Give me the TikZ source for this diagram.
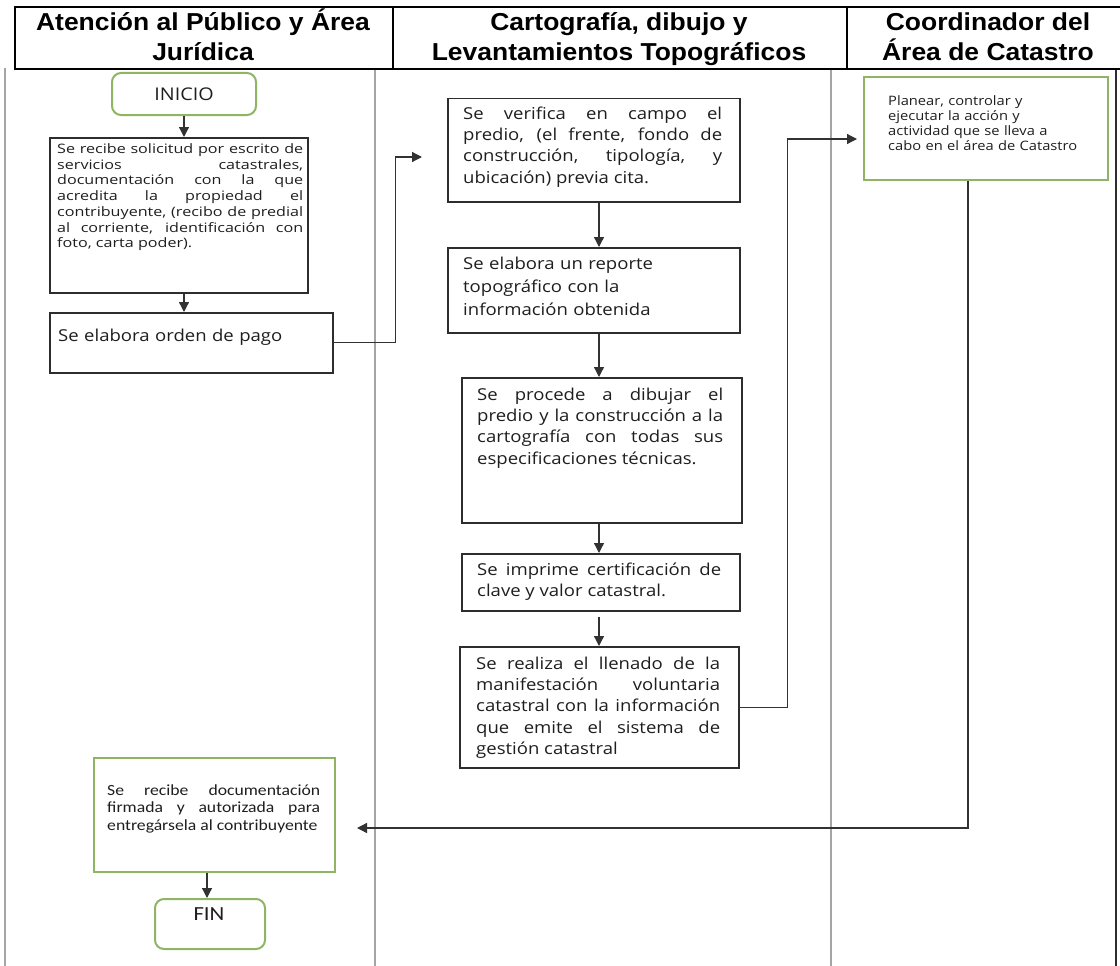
\documentclass[tikz,border=0pt]{standalone}
\usepackage{fontspec}
\newfontfamily\osf{Open Sans}[FakeStretch=1.13]
\newfontfamily\osw{Open Sans}[FakeStretch=1.24]
\newfontfamily\crl{Carlito}[FakeStretch=1.14]
\newfontfamily\hdf{Liberation Sans}[FakeStretch=1.08]
\usetikzlibrary{arrows.meta}
\definecolor{grn}{RGB}{143,180,100}
\definecolor{boxc}{RGB}{45,45,45}
\definecolor{linec}{RGB}{50,50,50}
\definecolor{lanec}{RGB}{165,165,165}
\definecolor{txtc}{RGB}{30,30,30}
\begin{document}
\begin{tikzpicture}[x=1pt,y=-1pt,
  hcell/.style={draw=black, line width=2pt, inner sep=0pt, anchor=north west},
  boxb/.style={draw=boxc, line width=1.5pt, inner sep=0pt, anchor=north west},
  boxg/.style={draw=grn, line width=2pt, inner sep=0pt, anchor=north west},
  rnd/.style={boxg, rounded corners=9pt},
  txt/.style={inner sep=0pt, anchor=base west, text=txtc, align=justify},
  conn/.style={draw=linec, line width=1.3pt},
  arr/.style={conn, -{Triangle[length=10pt,width=10pt]}},
  lane/.style={draw=lanec, line width=2.5pt},
  hdr/.style={inner sep=0pt, anchor=base, font=\hdf\bfseries\fontsize{24.5}{30}\selectfont},
  big/.style={font=\osf\fontsize{16.4}{21.2}\selectfont},
]
\useasboundingbox (0,0) rectangle (1120,966);

% swimlane lines
\draw[lane] (5,68) -- (5,970);
\draw[lane] (375,68) -- (375,970);
\draw[lane] (831,68) -- (831,970);
\draw[draw=boxc, line width=2pt] (1116,68) -- (1116,970);

% header
\node[hcell, minimum width=378, minimum height=62] (h1) at (14,6) {};
\node[hcell, minimum width=454, minimum height=62] (h2) at (392,6) {};
\node[hcell, minimum width=284, minimum height=62] (h3) at (846,6) {};
\node[hdr] (h1a) at (203,31) {Atención al Público y Área};
\node[hdr] (h1b) at (203,61) {Jurídica};
\node[hdr] (h2a) at (619,31) {Cartografía, dibujo y};
\node[hdr] (h2b) at (619,61) {Levantamientos Topográficos};
\node[hdr] (h3a) at (988,31) {Coordinador del};
\node[hdr] (h3b) at (988,61) {Área de Catastro};

% lane 1
\node[rnd, minimum width=144, minimum height=42, text=txtc,
      font=\osf\fontsize{17.5}{20}\selectfont] (inicio) at (111,72) {INICIO};

\node[boxb, minimum width=258, minimum height=155] (b1) at (49,137) {};
\node[txt, text width=246pt, font=\osw\fontsize{13}{15.7}\selectfont] (b1t) at (57,153.5)
 {Se recibe solicitud por escrito de\linebreak servicios catastrales,\linebreak documentación con la que\linebreak acredita la propiedad el\linebreak contribuyente, (recibo de predial\linebreak al corriente, identificación con\linebreak foto, carta poder).};

\node[boxb, minimum width=283, minimum height=60] (b2) at (49,312) {};
\node[txt, big, text width=260pt, align=left] (b2t) at (58,341.5) {Se elabora orden de pago};

\node[boxg, minimum width=241, minimum height=114] (b8) at (93,757) {};
\node[txt, text width=213pt, font=\crl\fontsize{15.5}{17.5}\selectfont] (b8t) at (107,795)
 {Se recibe documentación\linebreak firmada y autorizada para\linebreak entregársela al contribuyente};

\node[rnd, minimum width=110, minimum height=50] (fin) at (154,898) {};
\node[inner sep=0pt, anchor=base, text=txtc, font=\crl\fontsize{20}{22}\selectfont] (fint) at (209,920) {FIN};

% lane 2
\node[boxb, minimum width=292, minimum height=103] (b3) at (447,98) {};
\node[txt, big, text width=259pt] (b3t) at (463,119.5)
 {Se verifica en campo el\linebreak predio, (el frente, fondo de\linebreak construcción, tipología, y\linebreak ubicación) previa cita.};

\node[boxb, minimum width=292, minimum height=85] (b4) at (447,247) {};
\node[txt, text width=259pt, align=left, font=\osf\fontsize{16.4}{23}\selectfont] (b4t) at (463,269.5)
 {Se elabora un reporte\\ topográfico con la\\ información obtenida};

\node[boxb, minimum width=280, minimum height=145] (b5) at (461,377) {};
\node[txt, big, text width=246pt] (b5t) at (477,400.5)
 {Se procede a dibujar el\linebreak predio y la construcción a la\linebreak cartografía con todas sus\linebreak especificaciones técnicas.};

\node[boxb, minimum width=278, minimum height=57] (b6) at (461,553) {};
\node[txt, big, text width=244pt] (b6t) at (477,575.5)
 {Se imprime certificación de\linebreak clave y valor catastral.};

\node[boxb, minimum width=279, minimum height=121] (b7) at (459,646) {};
\node[txt, big, text width=244pt] (b7t) at (476,669.5)
 {Se realiza el llenado de la\linebreak manifestación voluntaria\linebreak catastral con la información\linebreak que emite el sistema de\linebreak gestión catastral};

% lane 3
\node[boxg, minimum width=244, minimum height=103] (b9) at (863,76) {};
\node[txt, text width=210pt, align=left, font=\osf\fontsize{13}{15}\selectfont] (b9t) at (888,105.5)
 {Planear, controlar y\\ ejecutar la acción y\\ actividad que se lleva a\\ cabo en el área de Catastro};

% connectors
\coordinate (xa) at (184,0);
\coordinate (xb) at (599,0);
\coordinate (xr) at (968,0);
\coordinate (xf) at (207,0);
\coordinate (c23) at (422,157);
\coordinate (c79) at (857,139);
\coordinate (c98) at (357,828);

\draw[arr] (inicio.south -| xa) -- (b1.north -| xa);
\draw[arr] (b1.south -| xa) -- (b2.north -| xa);
\draw[arr] (b2.east) -- ++(62,0) |- (c23);
\draw[arr] (b3.south -| xb) -- (b4.north -| xb);
\draw[arr] (b4.south -| xb) -- (b5.north -| xb);
\draw[arr] (b5.south -| xb) -- (b6.north -| xb);
\draw[arr] ([yshift=-5pt]b6.south -| xb) -- (b7.north -| xb);
\draw[arr] (b7.east) -- ++(48,0) |- (c79);
\draw[arr] (b9.south -| xr) |- (c98);
\draw[arr] (b8.south -| xf) -- (fin.north -| xf);
\end{tikzpicture}
\end{document}
